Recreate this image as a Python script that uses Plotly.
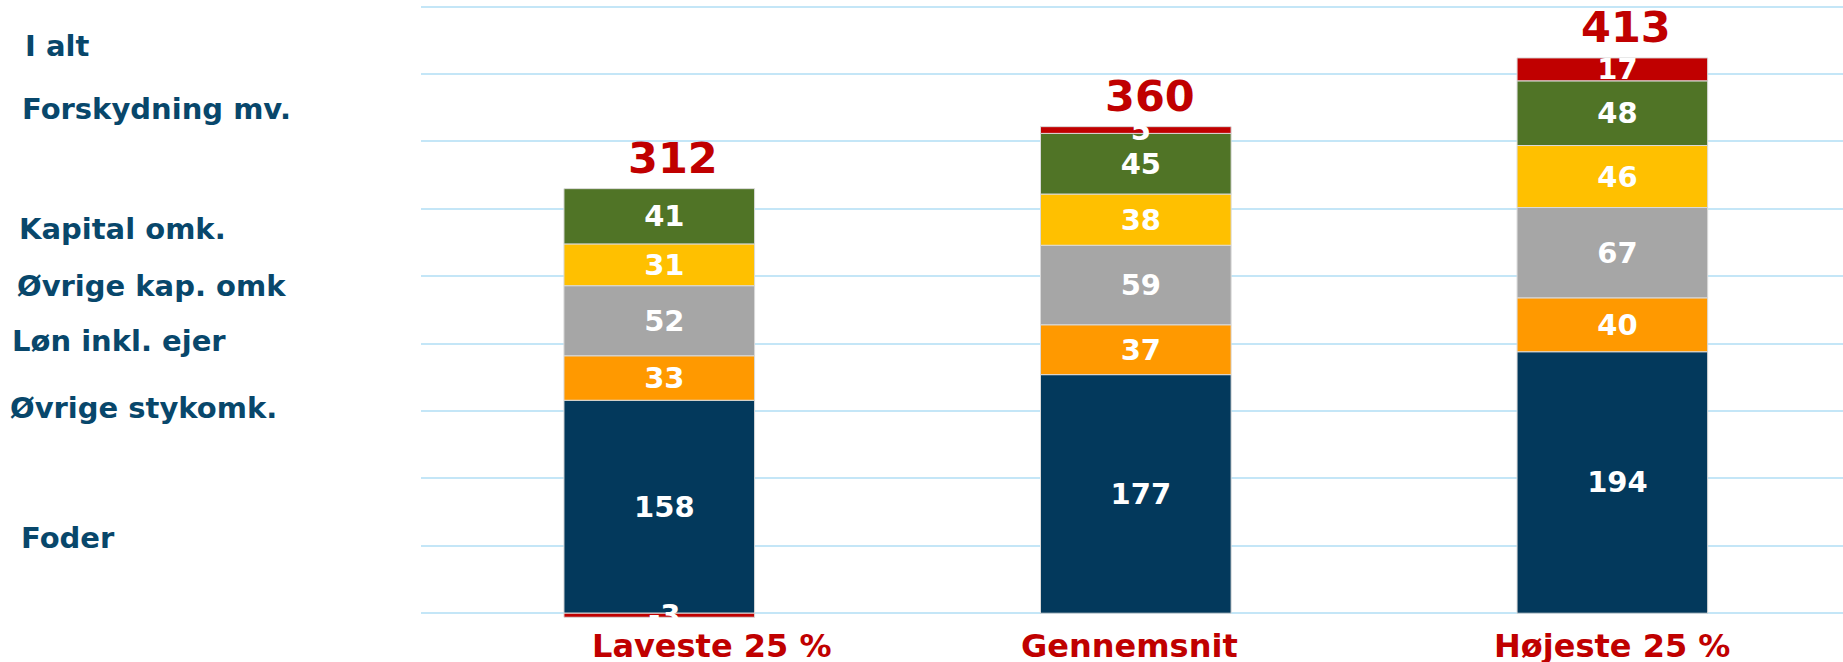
import plotly.graph_objects as go

# data
groups = ["Laveste 25 %", "Gennemsnit", "Højeste 25 %"]
series = ["Foder", "Øvrige stykomk.", "Løn inkl. ejer", "Øvrige kap. omk", "Kapital omk.", "Forskydning mv."]
foder = [158, 177, 194]
stykomk = [33, 37, 40]
loen = [52, 59, 67]
kap_ovr = [31, 38, 46]
kapital = [41, 45, 48]
forskydning = [-3, 5, 17]
i_alt = [312, 360, 413]

values = [foder, stykomk, loen, kap_ovr, kapital, forskydning]
colors = ["#03395C", "#FF9900", "#A6A6A6", "#FFC000", "#507426", "#C00000"]

fig = go.Figure()
for name, vals, col in zip(series, values, colors):
    fig.add_trace(go.Bar(
        x=groups, y=vals, name=name,
        marker_color=col, marker_line=dict(color="#DADADA", width=1),
        # leading nbsp nudges the label a few px right, like the original
        text=["\u00a0" + str(v) for v in vals], textposition="inside", textangle=0,
        insidetextanchor="middle",
        textfont=dict(family="DejaVu Sans", size=29, color="white", weight="bold"),
        cliponaxis=False,
    ))

# totals above bars
tops = [sum(v[i] for v in values if v[i] > 0) for i in range(len(groups))]
for g, top, tot in zip(groups, tops, i_alt):
    fig.add_annotation(x=g, y=top, text=str(tot), showarrow=False,
                       yanchor="bottom", yshift=4, xshift=14,
                       font=dict(family="DejaVu Sans", size=43, color="#C00000", weight="bold"))

# category labels under the bars (first one sits off-centre in the original)
cat_shift = [52, -6, 0]
for g, dx in zip(groups, cat_shift):
    fig.add_annotation(x=g, xref="x", y=0, yref="paper", text=g, showarrow=False,
                       yanchor="top", xshift=dx, yshift=-1,
                       font=dict(family="DejaVu Sans", size=32, color="#C00000", weight="bold"))

# left side labels (legend substitute), pixel positions from the top-left corner
H, T, B, L, W = 662, 4, 38, 421, 1843
plot_h = H - T - B
label_names = ["I alt", "Forskydning mv.", "Kapital omk.", "Øvrige kap. omk", "Løn inkl. ejer", "Øvrige stykomk.", "Foder"]
label_px = [(23, 46), (20, 109), (17, 229), (15, 286), (10, 341), (8, 408), (19, 538)]
for name, (px, py) in zip(label_names, label_px):
    fig.add_annotation(xref="paper", yref="paper",
                       x=(px - L) / (W - L), y=1 - (py - T) / plot_h,
                       xanchor="left", yanchor="middle", text=name, showarrow=False,
                       font=dict(family="DejaVu Sans", size=29, color="#08476B", weight="bold"))

fig.update_layout(
    barmode="relative", bargap=0.6,
    width=W, height=H,
    margin=dict(l=L, r=0, t=T, b=B),
    plot_bgcolor="white", paper_bgcolor="white",
    showlegend=False,
    uniformtext=dict(minsize=29, mode="show"),
)
fig.update_yaxes(range=[-8, 452], dtick=50, showticklabels=False, automargin=False,
                 showgrid=True, gridcolor="#C4E6F7", gridwidth=2, zeroline=False)
fig.update_xaxes(showline=False, ticks="", showticklabels=False, automargin=False,
                 range=[-0.5, 2.484])

fig.write_html("out.html", config={"displayModeBar": False},
               post_script="document.body.style.margin='0';")
